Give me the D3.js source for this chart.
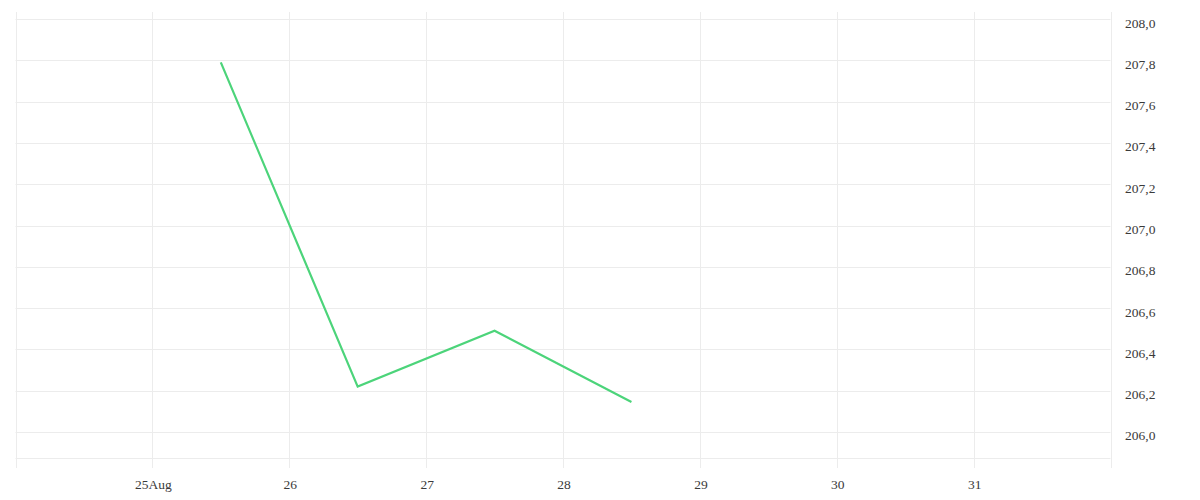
<!DOCTYPE html>
<html>
<head>
<meta charset="utf-8">
<script src="https://cdn.jsdelivr.net/npm/d3@7"></script>
<style>
  body { margin: 0; background: #fff; }
  text { font-family: "Liberation Serif", "DejaVu Serif", serif; }
</style>
</head>
<body>
<script>
// data
const dates = ["2023-08-25T12:00", "2023-08-26T12:00", "2023-08-27T12:00", "2023-08-28T12:00"];
const prices = [207.79, 206.22, 206.49, 206.145];
const yTicks = [206.0, 206.2, 206.4, 206.6, 206.8, 207.0, 207.2, 207.4, 207.6, 207.8, 208.0];
const xTickDays = ["2023-08-25", "2023-08-26", "2023-08-27", "2023-08-28", "2023-08-29", "2023-08-30", "2023-08-31"];
const xTickLabels = ["25Aug", "26", "27", "28", "29", "30", "31"];

function main(){
    const width = 1200;
    const height = 500;
    const parseT = d3.timeParse("%Y-%m-%dT%H:%M");
    const parseD = d3.timeParse("%Y-%m-%d");

    const svg = d3.select("body").append("svg")
        .attr("width", width)
        .attr("height", height);

    const x = d3.scaleTime()
        .domain([parseD("2023-08-24"), parseD("2023-09-01")])
        .range([15.5, 1110.5]);

    const y = d3.scaleLinear()
        .domain([205.874, 208.034])
        .range([458, 12]);

    const grid = svg.append("g");

    // horizontal grid lines
    grid.selectAll("line.h")
        .data(yTicks.concat([y.domain()[0]]))
        .enter()
        .append("line")
        .attr("class", "h")
        .attr("x1", x.range()[0])
        .attr("x2", x.range()[1])
        .attr("y1", d => Math.round(y(d)) + 0.5)
        .attr("y2", d => Math.round(y(d)) + 0.5)
        .style("stroke", "#ececec")
        .style("stroke-width", 1);

    // vertical grid lines, including both edges
    const xLines = [x.domain()[0]].concat(xTickDays.map(parseD), [x.domain()[1]]);
    grid.selectAll("line.v")
        .data(xLines)
        .enter()
        .append("line")
        .attr("class", "v")
        .attr("x1", d => Math.round(x(d)) + 0.5)
        .attr("x2", d => Math.round(x(d)) + 0.5)
        .attr("y1", 12)
        .attr("y2", 468)
        .style("stroke", "#ececec")
        .style("stroke-width", 1);

    // y labels on the right, sitting just under their grid line
    svg.append("g")
        .selectAll("text")
        .data(yTicks)
        .enter()
        .append("text")
        .attr("x", 1125)
        .attr("y", d => y(d) + 8.5)
        .style("font-size", "13.5px")
        .style("fill", "#3a3a3a")
        .text(d => d3.format(".1f")(d).replace(".", ","));

    // x labels
    svg.append("g")
        .selectAll("text")
        .data(xTickDays)
        .enter()
        .append("text")
        .attr("x", d => x(parseD(d)) + 1)
        .attr("y", 488.5)
        .style("text-anchor", "middle")
        .style("font-size", "13.5px")
        .style("fill", "#3a3a3a")
        .text((d, i) => xTickLabels[i]);

    const line = d3.line()
        .x((d, i) => x(parseT(dates[i])))
        .y(d => y(d));

    svg.append("path")
        .datum(prices)
        .attr("d", line)
        .style("fill", "none")
        .style("stroke", "#4cd47a")
        .style("stroke-width", 2.2)
        .style("stroke-linejoin", "miter");
}

main();
</script>
</body>
</html>
